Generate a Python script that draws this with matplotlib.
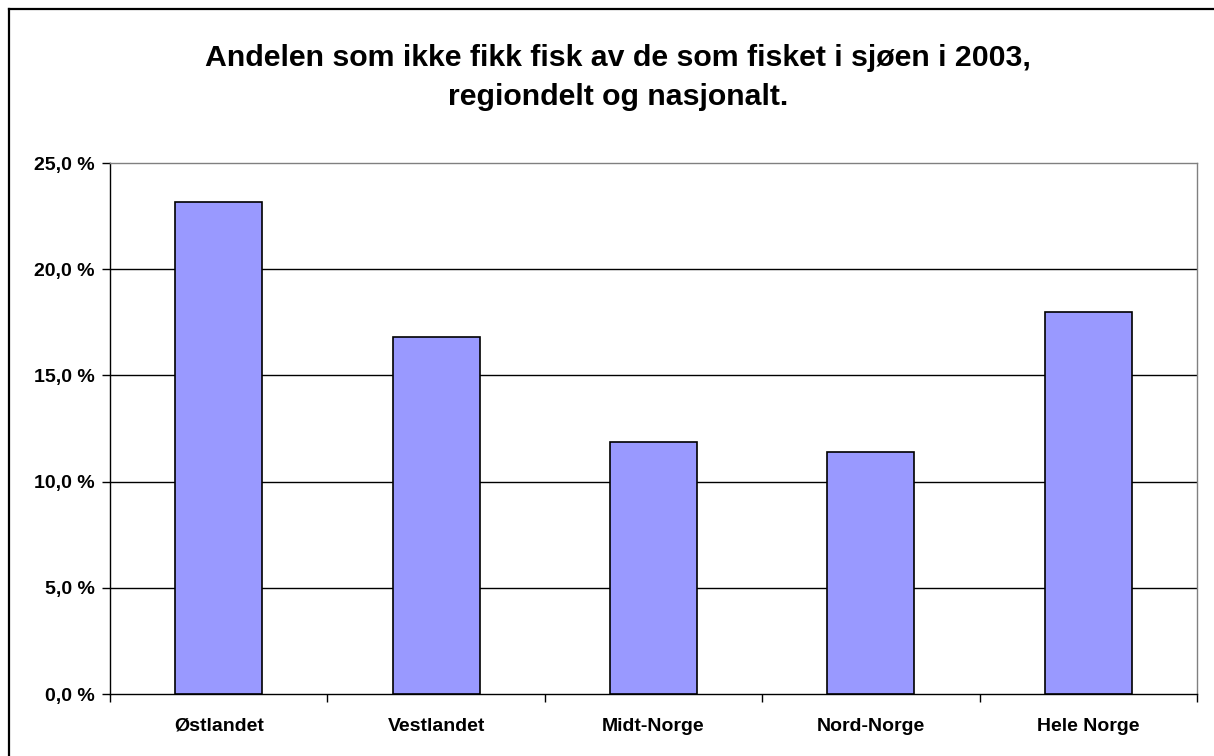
import matplotlib
matplotlib.use("Agg")
import matplotlib.pyplot as plt
from matplotlib.lines import Line2D

categories = ["Østlandet", "Vestlandet", "Midt-Norge", "Nord-Norge", "Hele Norge"]
values = [23.15, 16.8, 11.85, 11.4, 18.0]
yticks = [0, 5, 10, 15, 20, 25]
ytick_labels = ["0,0 %", "5,0 %", "10,0 %", "15,0 %", "20,0 %", "25,0 %"]
title_lines = ["Andelen som ikke fikk fisk av de som fisket i sjøen i 2003,",
               "regiondelt og nasjonalt."]

plt.rcParams['font.family'] = ['Liberation Sans', 'DejaVu Sans']

W, H = 1214, 756
fig = plt.figure(figsize=(W / 100, H / 100), dpi=100)
fig.patch.set_facecolor("white")

left, right, top, bottom = 110, 1197, 163, 694
ax = fig.add_axes([left / W, 1 - bottom / H, (right - left) / W, (bottom - top) / H])

x = list(range(len(categories)))
ax.bar(x, values, width=0.4, color="#9999FF", edgecolor="black", linewidth=1.2, zorder=3)
ax.set_xlim(-0.5, len(categories) - 0.5)
ax.set_ylim(0, 25)

ax.set_yticks(yticks)
ax.set_yticklabels(ytick_labels, fontsize=14, fontweight="bold")
ax.set_xticks(x)
ax.set_xticklabels(categories, fontsize=14, fontweight="bold")
ax.tick_params(axis="x", length=0, pad=17)
ax.tick_params(axis="y", direction="out", length=6, width=1, pad=5)
ax.set_xticks([i + 0.5 for i in range(-1, len(categories))], minor=True)
ax.tick_params(axis="x", which="minor", direction="out", length=6, width=1)

for yv in yticks[1:-1]:
    ax.axhline(yv, color="black", linewidth=1, zorder=1)

ax.spines["top"].set_color("#808080")
ax.spines["right"].set_color("#808080")
ax.spines["left"].set_color("black")
ax.spines["bottom"].set_color("black")
for s in ax.spines.values():
    s.set_linewidth(1)

for ypix, line in zip([58, 97], title_lines):
    fig.text(618 / W, 1 - ypix / H, line, ha="center", va="center", fontsize=21.8,
             fontweight="bold")

# outer chart border (top and left visible)
fig.add_artist(Line2D([9 / W, 1.0], [1 - 9 / H, 1 - 9 / H], color="black", linewidth=1.6,
                      transform=fig.transFigure))
fig.add_artist(Line2D([9 / W, 9 / W], [0, 1 - 9 / H], color="black", linewidth=1.6,
                      transform=fig.transFigure))

fig.savefig("out.png", dpi=100)
